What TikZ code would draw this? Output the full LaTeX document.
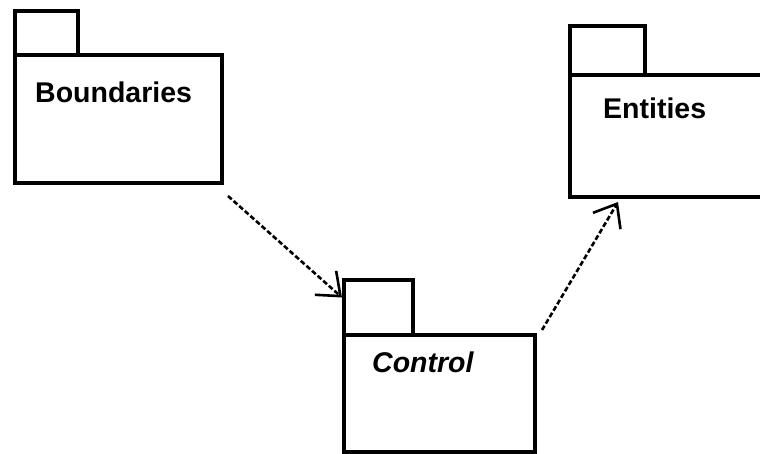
\documentclass[tikz,border=0pt]{standalone}
\usepackage{fontspec}
\setmainfont{Liberation Sans}
\usetikzlibrary{arrows.meta}
\tikzset{
  pkg/.style={draw, line width=3.6pt, inner sep=0pt, outer sep=0pt, anchor=north west},
  pkgname/.style={anchor=base west, inner sep=0pt, font=\fontsize{28.5}{32}\selectfont\bfseries},
  dep/.style={line width=2.6pt, dash pattern=on 5pt off 2.5pt,
    -{Straight Barb[length=20pt,width=32pt,line width=2.6pt]}}
}
\begin{document}
\begin{tikzpicture}[x=1pt,y=-1pt]
  \useasboundingbox (0,0) rectangle (760,453);
  \clip (0,0) rectangle (760,453);
  % packages: a body with a tab on its top left corner
  \node[pkg, minimum width=207pt, minimum height=128pt] (bnd) at (15,55) {};
  \node[pkg, minimum width=63pt, minimum height=44pt, anchor=south west] (bndtab) at (bnd.north west) {};
  \node[pkgname] at (35,102) {Boundaries};

  \node[pkg, minimum width=230pt, minimum height=122pt] (ent) at (570,75) {};
  \node[pkg, minimum width=75pt, minimum height=49pt, anchor=south west] (enttab) at (ent.north west) {};
  \node[pkgname] at (603,118) {Entities};

  \node[pkg, minimum width=191pt, minimum height=117pt] (ctl) at (344,335) {};
  \node[pkg, minimum width=69pt, minimum height=55pt, anchor=south west] (ctltab) at (ctl.north west) {};
  \node[pkgname, font=\fontsize{28.5}{32}\selectfont\bfseries\itshape] at (372,372) {Control};

  % dependencies
  \draw[dep] ([shift={(6,13)}]bnd.south east) -- ([shift={(-2,-10)}]ctltab.west);
  \draw[dep] ([shift={(7,-5)}]ctl.north east) -- ([shift={(48,5)}]ent.south west);
\end{tikzpicture}
\end{document}
